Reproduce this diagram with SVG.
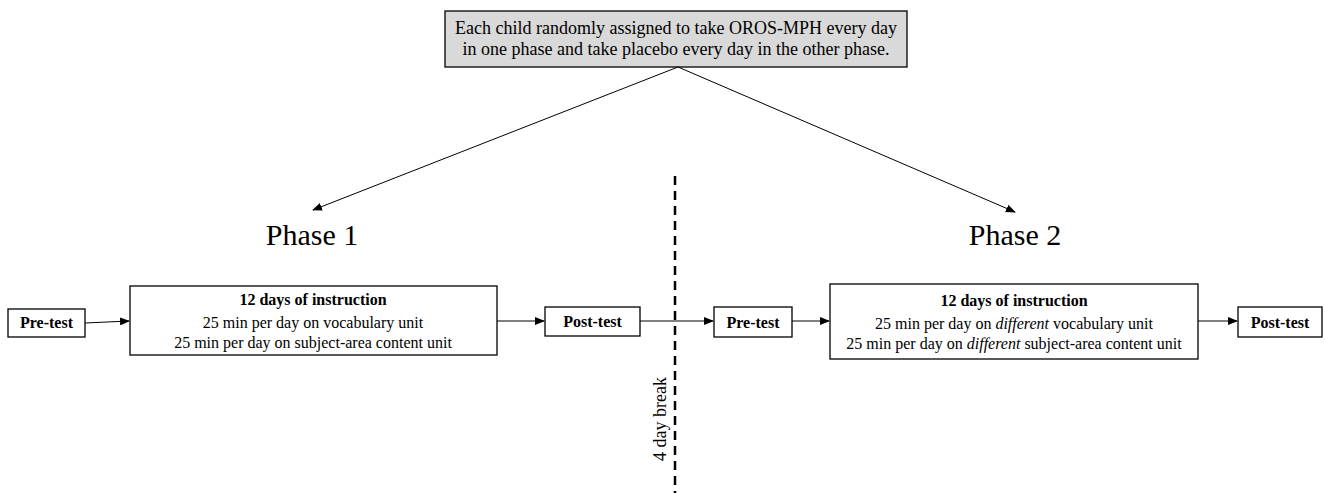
<svg xmlns="http://www.w3.org/2000/svg" width="1325" height="493" viewBox="0 0 1325 493">
<style>
text{font-family:"Liberation Serif","Times New Roman",serif;fill:#000;text-anchor:middle}
.box{fill:#fff;stroke:#000;stroke-width:1.3}
.b{font-weight:bold;font-size:16px}
.t{font-size:16px}
.c{stroke:#000;stroke-width:1;fill:none}
</style>
<defs>
<marker id="ah" markerWidth="10" markerHeight="8" refX="9" refY="4" orient="auto" markerUnits="userSpaceOnUse">
<path d="M0,0 L10,4 L0,8 Z" fill="#000"/>
</marker>
</defs>
<g id="top">
<rect x="445" y="11" width="462" height="56" fill="#d9d9d9" stroke="#000" stroke-width="1.3"/>
<text x="676" y="34" font-size="18">Each child randomly assigned to take OROS-MPH every day</text>
<text x="676" y="55" font-size="18">in one phase and take placebo every day in the other phase.</text>
</g>
<g id="phase1label"><text x="312" y="245" font-size="30">Phase 1</text></g>
<g id="phase2label"><text x="1015" y="245" font-size="30">Phase 2</text></g>
<g id="pre1"><rect class="box" x="8" y="309" width="77" height="28"/><text class="b" x="46.5" y="328">Pre-test</text></g>
<g id="instr1"><rect class="box" x="130" y="286" width="367" height="69"/>
<text class="b" x="313" y="305">12 days of instruction</text>
<text class="t" x="313" y="328">25 min per day on vocabulary unit</text>
<text class="t" x="313" y="348">25 min per day on subject-area content unit</text></g>
<g id="post1"><rect class="box" x="545" y="307" width="95" height="29"/><text class="b" x="592.5" y="327">Post-test</text></g>
<g id="pre2"><rect class="box" x="714" y="307" width="78" height="30"/><text class="b" x="753" y="328">Pre-test</text></g>
<g id="instr2"><rect class="box" x="830" y="284" width="368" height="75"/>
<text class="b" x="1014" y="306">12 days of instruction</text>
<text class="t" x="1014" y="329">25 min per day on <tspan font-style="italic">different</tspan> vocabulary unit</text>
<text class="t" x="1014" y="349">25 min per day on <tspan font-style="italic">different</tspan> subject-area content unit</text></g>
<g id="post2"><rect class="box" x="1238" y="307" width="84" height="30"/><text class="b" x="1280" y="328">Post-test</text></g>
<g id="break">
<line x1="675" y1="176" x2="675" y2="493" stroke="#000" stroke-width="2.5" stroke-dasharray="9,6"/>
<text x="0" y="0" font-size="18" transform="translate(666,419) rotate(-90)">4 day break</text>
</g>
<g id="connectors">
<line class="c" x1="678" y1="67" x2="313" y2="210" marker-end="url(#ah)"/>
<line class="c" x1="678" y1="67" x2="1015" y2="212" marker-end="url(#ah)"/>
<line class="c" x1="85" y1="323" x2="129" y2="321" marker-end="url(#ah)"/>
<line class="c" x1="497" y1="321" x2="544" y2="321" marker-end="url(#ah)"/>
<line class="c" x1="640" y1="321" x2="713" y2="321" marker-end="url(#ah)"/>
<line class="c" x1="792" y1="321" x2="829" y2="321" marker-end="url(#ah)"/>
<line class="c" x1="1198" y1="321" x2="1237" y2="321" marker-end="url(#ah)"/>
</g>
</svg>
